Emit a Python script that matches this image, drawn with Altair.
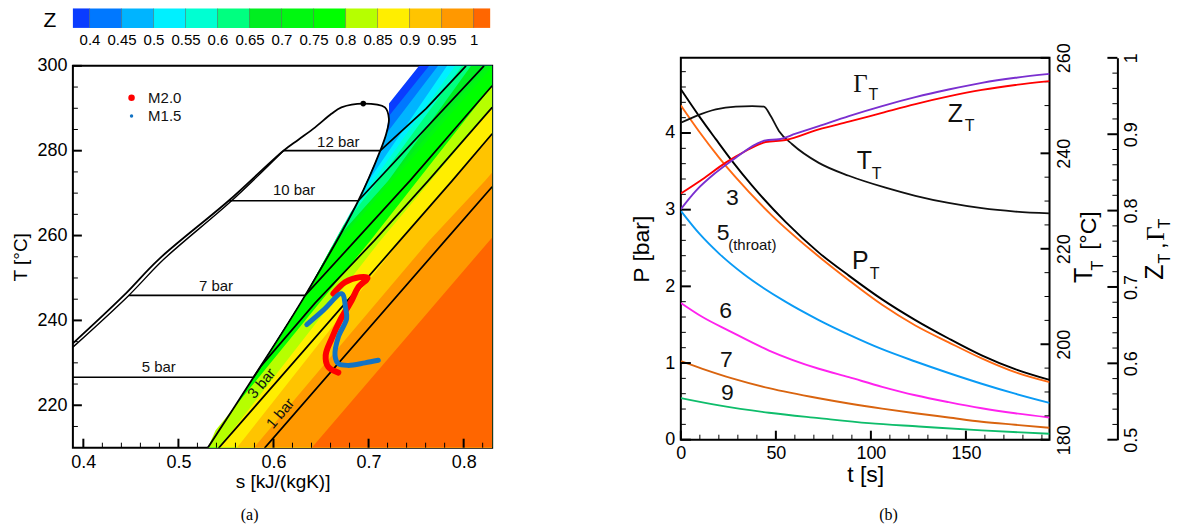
import altair as alt
import pandas as pd

# ---------- Colour bar ----------
Z_LEVELS = [0.4, 0.45, 0.5, 0.55, 0.6, 0.65, 0.7, 0.75, 0.8, 0.85, 0.9, 0.95, 1.0]
Z_EDGES = [0.374] + Z_LEVELS + [1.026]
Z_COLORS = ["#0a3cff", "#0078ff", "#00b4ff", "#00f0ff", "#00ffd2", "#00ff80", "#00ee20",
            "#00f810", "#00ff00", "#b6ff00", "#ffee00", "#ffc400", "#ff9800", "#ff6600"]

# ---------- Panel (a): saturation dome ----------
VAPOR_S = [0.5307, 0.579, 0.6333, 0.6892, 0.7123, 0.7186, 0.7214]
VAPOR_T = [209.9, 226.6, 245.9, 268.2, 280.0, 284.0, 287.5]
DOME_TOP_S = [0.7172, 0.6944, 0.6714, 0.6609, 0.6438, 0.6262, 0.6105]
DOME_TOP_T = [290.2, 291.1, 290.2, 288.7, 285.5, 282.6, 280.0]
LIQUID_A_S = [0.5528, 0.4793, 0.4426, 0.389]
LIQUID_A_T = [268.2, 254.4, 245.9, 234.6]
LIQUID_B_S = [0.6105, 0.5559, 0.4846, 0.4478, 0.389]
LIQUID_B_T = [280.0, 268.2, 254.4, 245.9, 233.7]

# Contour level boundaries (s, T), ordered from the dome towards high entropy
BOUND_S = [
    [0.7215, 0.7532, 0.83],
    [0.7214, 0.7637, 0.83],
    [0.7186, 0.7731, 0.83],
    [0.6965, 0.7826, 0.83],
    [0.6808, 0.791, 0.83],
    [0.6735, 0.7102, 0.7983, 0.83],
    [0.6672, 0.7207, 0.8078, 0.83],
    [0.6609, 0.8246, 0.83],
    [0.6567, 0.8298, 0.83],
    [0.5391, 0.7018, 0.8298, 0.83],
    [0.5423, 0.7123, 0.8298, 0.83],
    [0.5612, 0.7333, 0.8298, 0.83],
    [0.579, 0.7637, 0.8225, 0.8298, 0.83],
    [0.6399, 0.8298, 0.83],
]
BOUND_T = [
    [291.1, 300, 300],
    [288.2, 300, 300],
    [284.0, 300, 300],
    [271.8, 300, 300],
    [265.4, 300, 300],
    [262.4, 272.9, 300, 300],
    [259.5, 272.9, 300, 300],
    [257.2, 300, 300],
    [255.3, 299.8, 300],
    [214.1, 258.8, 295.3, 295.5],
    [209.9, 258.8, 290.1, 290.2],
    [209.9, 258.8, 284.0, 284.1],
    [209.9, 258.8, 272.9, 274.8, 275.0],
    [209.9, 259.5, 259.7],
]

# Constant-pressure lines
ISO_NAMES = ["12 bar", "10 bar", "7 bar", "5 bar", "3 bar", "1 bar"]
ISO_S = [
    [0.6105, 0.7123, 0.7605, 0.8025],
    [0.5528, 0.6892, 0.8214],
    [0.4478, 0.6333, 0.686, 0.7434, 0.83],
    [0.389, 0.579, 0.5874, 0.6441, 0.706, 0.7626, 0.83],
    [0.5423, 0.7329, 0.7878, 0.83],
    [0.5906, 0.7805, 0.83],
]
ISO_T = [
    [280, 280, 289.9, 300],
    [268.2, 268.2, 300],
    [245.9, 245.9, 258.8, 272.9, 295.3],
    [226.6, 226.6, 229.4, 244.2, 258.8, 272.9, 290.2],
    [209.9, 258.8, 272.9, 284.0],
    [209.9, 258.8, 271.5],
]

# Expansion paths
M20_S = [0.663, 0.6752, 0.691, 0.699, 0.6892, 0.6822, 0.67, 0.6612, 0.6549, 0.6577, 0.6682]
M20_T = [246.3, 249.0, 250.2, 250.05, 247.8, 244.7, 240.0, 235.7, 231.8, 229.0, 227.7]
M15_S = [0.635, 0.6525, 0.6717, 0.6759, 0.6769, 0.6682, 0.6647, 0.6682, 0.6787, 0.6962, 0.7102]
M15_T = [239.0, 242.4, 246.3, 242.8, 240.4, 236.1, 231.8, 229.8, 229.4, 230.0, 230.6]

# Text labels of panel (a): s, T, text, angle
LABELS_A = [
    (0.6682, 282.0, "12 bar", 0),
    (0.6217, 270.8, "10 bar", 0),
    (0.5395, 248.0, "7 bar", 0),
    (0.4793, 229.0, "5 bar", 0),
    (0.5874, 225.2, "3 bar", 310),
    (0.607, 218.1, "1 bar", 310),
    (0.4856, 292.5, "M2.0", 0),
    (0.4856, 288.2, "M1.5", 0),
]

# ---------- Panel (b) ----------
SERIES_P = {
    "PT": ([0, 9.6, 18.4, 27.1, 37.6, 55.1, 72.6, 88.4, 105.9, 123.4, 140.9, 158.3, 175.9, 194],
           [4.57, 4.22, 3.92, 3.63, 3.31, 2.84, 2.44, 2.14, 1.83, 1.56, 1.32, 1.10, 0.92, 0.78], "#000000"),
    "3": ([0, 9.6, 20.1, 28.9, 48.1, 69.1, 88.4, 105.9, 123.4, 140.9, 158.3, 175.9, 194],
          [4.36, 4.02, 3.68, 3.42, 2.92, 2.46, 2.08, 1.76, 1.49, 1.27, 1.06, 0.88, 0.75], "#ff6a13"),
    "5": ([0, 10, 20, 33, 55, 72.6, 88.4, 105.9, 123.4, 140.9, 158.3, 175.9, 194],
          [2.985, 2.68, 2.43, 2.16, 1.80, 1.56, 1.37, 1.18, 1.02, 0.87, 0.73, 0.60, 0.48], "#0a9bf5"),
    "6": ([0, 11.4, 25.4, 46.4, 72.6, 88.4, 105.9, 123.4, 140.9, 158.3, 175.9, 194],
          [1.784, 1.6, 1.42, 1.163, 0.925, 0.815, 0.69, 0.58, 0.49, 0.41, 0.345, 0.29], "#ff22ee"),
    "7": ([0, 11.4, 27, 46.4, 72.6, 88.4, 105.9, 123.4, 140.9, 158.3, 175.9, 194],
          [1.024, 0.925, 0.80, 0.672, 0.54, 0.472, 0.405, 0.345, 0.29, 0.235, 0.195, 0.156], "#d9640f"),
    "9": ([0, 20.1, 46.4, 72.6, 98.9, 125.2, 158.3, 194],
          [0.542, 0.447, 0.351, 0.281, 0.216, 0.173, 0.121, 0.078], "#0ebd6b"),
}
TT_T = [0, 7.9, 18.4, 28.9, 37.6, 43.7, 47.3, 51.6, 58.6, 72.6, 88.4, 107.7, 123.4, 140.9, 158.4, 176, 194]
TT_V = [246.4, 247.8, 249.2, 249.8, 249.9, 249.8, 247.8, 244.7, 241.9, 238.0, 235.3, 232.8, 231.1, 229.6, 228.5, 227.8, 227.4]
ZT_T = [0, 11.4, 23.6, 34.1, 44.6, 55.1, 72.6, 88.4, 105.9, 123.4, 140.9, 158.4, 176, 194]
ZT_V = [0.8223, 0.841, 0.8628, 0.878, 0.8898, 0.8924, 0.9064, 0.9164, 0.928, 0.9395, 0.9495, 0.958, 0.9645, 0.9695]
GT_T = [0, 7.9, 18.4, 28.9, 39.4, 44.6, 51.6, 60.4, 72.6, 88.4, 105.9, 123.4, 140.9, 158.4, 176, 194]
GT_V = [0.8019, 0.8258, 0.8497, 0.8693, 0.8868, 0.892, 0.8934, 0.9007, 0.9107, 0.9238, 0.9369, 0.9485, 0.9585, 0.9673, 0.9739, 0.979]

# t, P, text, size
LABELS_B = [
    (27.1, 3.151, "3", 23), (22.2, 2.69, "5", 23), (37.6, 2.543, "(throat)", 15),
    (23.6, 1.674, "6", 23), (23.9, 1.042, "7", 23), (24.5, 0.612, "9", 23),
    (94.5, 2.326, "P", 25), (102, 2.16, "T", 16),
    (96.6, 3.637, "T", 25), (103, 3.465, "T", 16),
    (144.4, 4.245, "Z", 25), (152, 4.095, "T", 16),
    (101.3, 4.49, "T", 16),
]

SANS = "Liberation Sans"
SERIF = "Liberation Serif"
W_A, H_A = 420, 382.5
W_B, H_B = 369.3, 382.5
one = pd.DataFrame({"a": [0]})

COMMON = dict(domain=False, ticks=False, tickSize=0, grid=False, labelFont=SANS, labelColor="black",
              titleFont=SANS, titleFontWeight="normal", labelFlush=False, labelOverlap=False)


def note(x, y, text, size, font=SANS, angle=0):
    return alt.Chart(one).mark_text(fontSize=size, font=font, angle=angle, color="black",
                                    align="center", baseline="middle").encode(
        x=alt.value(x), y=alt.value(y), text=alt.value(text))


def vticks(vals, w, pos_from, length, scale, axis):
    """Inward-pointing ticks on a vertical axis."""
    return alt.Chart(pd.DataFrame({"v": vals})).mark_rule(color="black", strokeWidth=w).encode(
        y=alt.Y("v:Q", scale=scale, axis=axis), x=alt.value(pos_from), x2=alt.value(pos_from + length))


def hticks(vals, w, h, length, scale, axis):
    return alt.Chart(pd.DataFrame({"v": vals})).mark_rule(color="black", strokeWidth=w).encode(
        x=alt.X("v:Q", scale=scale, axis=axis), y=alt.value(h), y2=alt.value(h - length))


# ---------- Colour bar chart ----------
cb_scale = alt.Scale(domain=[Z_EDGES[0], Z_EDGES[-1]], nice=False, zero=False)
AX_CB = alt.Axis(values=Z_LEVELS, format="~g", title=None, labelFontSize=15, labelPadding=5, **COMMON)
cb_df = pd.DataFrame({"a": Z_EDGES[:-1], "b": Z_EDGES[1:], "c": Z_COLORS})
cb = alt.Chart(cb_df).mark_rect().encode(
    x=alt.X("a:Q", scale=cb_scale, axis=AX_CB),
    x2="b:Q",
    color=alt.Color("c:N", scale=None),
)
cb_sep = alt.Chart(pd.DataFrame({"v": Z_LEVELS})).mark_rule(color="#333", strokeWidth=0.7, opacity=0.6).encode(
    x=alt.X("v:Q", scale=cb_scale, axis=AX_CB))
colorbar = alt.layer(cb, cb_sep, note(-23, 13, "Z", 21)).properties(
    width=W_A - 2, height=19.5, view=alt.ViewConfig(stroke="transparent"))

# ---------- Panel (a) ----------
sx = alt.Scale(domain=[0.389, 0.83], nice=False, zero=False)
sy = alt.Scale(domain=[210, 300], nice=False, zero=False)
AX_S = alt.Axis(values=[0.4, 0.5, 0.6, 0.7, 0.8], format=".1f", title="s [kJ/(kgK)]", labelFontSize=18,
                labelPadding=6, titleFontSize=19, titlePadding=1, **COMMON)
AX_TEMP = alt.Axis(values=[220, 240, 260, 280, 300], title="T [°C]", labelFontSize=18, labelPadding=6,
                   titleFontSize=19, titlePadding=6, **COMMON)
X = alt.X("s:Q", scale=sx, axis=AX_S)
Y = alt.Y("T:Q", scale=sy, axis=AX_TEMP)

layers_a = []
for i, (bs, bt) in enumerate(zip(BOUND_S, BOUND_T)):
    low = [(a, b) for a, b in zip(VAPOR_S, VAPOR_T) if a < bs[0] and b < bt[0]]
    ss = [p[0] for p in low] + bs
    tt = [p[1] for p in low] + bt
    df = pd.DataFrame({"s": ss, "T": tt, "b": [210] * len(ss)})
    layers_a.append(alt.Chart(df).mark_area(color=Z_COLORS[i], clip=True, interpolate="linear").encode(
        x=X, y=Y, y2="b:Q"))


def path(ss, tt, color, width, cap="butt", interp="linear"):
    df = pd.DataFrame({"s": ss, "T": tt, "i": range(len(ss))})
    return alt.Chart(df).mark_line(color=color, strokeWidth=width, clip=True, strokeCap=cap,
                                   strokeJoin="round", interpolate=interp).encode(x=X, y=Y, order="i:Q")


for ss, tt in zip(ISO_S, ISO_T):
    layers_a.append(path(ss, tt, "black", 1.7))
layers_a.append(path(VAPOR_S + DOME_TOP_S + LIQUID_A_S, VAPOR_T + DOME_TOP_T + LIQUID_A_T, "black", 1.8,
                     interp="catmull-rom"))
layers_a.append(path(LIQUID_B_S, LIQUID_B_T, "black", 1.4, interp="catmull-rom"))
layers_a.append(path(M20_S, M20_T, "#ff0000", 6, "round", "catmull-rom"))
layers_a.append(path(M15_S, M15_T, "#1273c4", 5, "round", "catmull-rom"))

pts = pd.DataFrame({"s": [0.6944], "T": [291.1]})
layers_a.append(alt.Chart(pts).mark_point(filled=True, color="black", size=32, opacity=1).encode(x=X, y=Y))
leg = pd.DataFrame({"s": [0.4507, 0.4507], "T": [292.5, 288.2], "c": ["#ff0000", "#1273c4"], "z": [42, 12]})
layers_a.append(alt.Chart(leg).mark_point(filled=True, opacity=1).encode(
    x=X, y=Y, color=alt.Color("c:N", scale=None), size=alt.Size("z:Q", scale=None)))

lab_df = pd.DataFrame(LABELS_A, columns=["s", "T", "txt", "ang"])
for ang, sub in lab_df.groupby("ang"):
    layers_a.append(alt.Chart(sub).mark_text(font=SANS, fontSize=15, angle=int(ang), color="#111",
                                             align="center", baseline="middle").encode(
        x=X, y=Y, text="txt:N"))

layers_a.append(hticks([0.4, 0.5, 0.6, 0.7, 0.8], 2, H_A, 9, sx, AX_S))
layers_a.append(hticks([round(0.4 + 0.02 * k, 2) for k in range(22) if k % 5], 1, H_A, 5, sx, AX_S))
layers_a.append(vticks([220, 240, 260, 280, 300], 2, 0, 9, sy, AX_TEMP))
layers_a.append(vticks([215, 225, 230, 235, 245, 250, 255, 265, 270, 275, 285, 290, 295], 1, 0, 5, sy, AX_TEMP))
layers_a.append(note(177, 450, "(a)", 16, font=SERIF))
panel_a = alt.layer(*layers_a).properties(width=W_A, height=H_A)

# ---------- Panel (b) ----------
tx = alt.Scale(domain=[0, 194], nice=False, zero=False)
py = alt.Scale(domain=[0, 4.98], nice=False, zero=False)
ty = alt.Scale(domain=[180, 260], nice=False, zero=False)
zy = alt.Scale(domain=[0.5, 1.0], nice=False, zero=False)
AX_TIME = alt.Axis(values=[0, 50, 100, 150], title="t [s]", labelFontSize=18, labelPadding=5, titleFontSize=23,
                   titlePadding=1, **COMMON)
AX_P = alt.Axis(values=[0, 1, 2, 3, 4], title="P [bar]", labelFontSize=18, labelPadding=6, titleFontSize=23,
                titlePadding=11, **COMMON)
AX_TT = alt.Axis(orient="right", values=[180, 200, 220, 240, 260], title=None, labelFontSize=18, labelAngle=270,
                 labelPadding=6, **COMMON)
z_off = 68
AX_Z_KW = dict(COMMON)
AX_Z_KW.update(domain=True, domainColor="black", domainWidth=2)
AX_Z = alt.Axis(orient="right", offset=z_off, values=[0.5, 0.6, 0.7, 0.8, 0.9, 1.0], format="~g", title=None,
                labelFontSize=18, labelAngle=270, labelPadding=5, **AX_Z_KW)
XT = alt.X("t:Q", scale=tx, axis=AX_TIME)


def curve(ts, vs, color, scale, axis, width=1.9):
    df = pd.DataFrame({"t": ts, "v": vs})
    return alt.Chart(df).mark_line(color=color, strokeWidth=width, clip=True, interpolate="monotone").encode(
        x=XT, y=alt.Y("v:Q", scale=scale, axis=axis))


p_layers = [curve(t, p, c, py, AX_P) for t, p, c in SERIES_P.values()]
lab_b = pd.DataFrame(LABELS_B, columns=["t", "v", "txt", "fs"])
for fs, sub in lab_b.groupby("fs"):
    p_layers.append(alt.Chart(sub).mark_text(font=SANS, fontSize=int(fs), color="#111",
                                             align="center", baseline="middle").encode(
        x=XT, y=alt.Y("v:Q", scale=py, axis=AX_P), text="txt:N"))
gam = pd.DataFrame({"t": [94.5], "v": [4.635], "txt": ["\u0393"]})
p_layers.append(alt.Chart(gam).mark_text(font=SERIF, fontSize=25, color="#111", align="center",
                                         baseline="middle").encode(
    x=XT, y=alt.Y("v:Q", scale=py, axis=AX_P), text="txt:N"))
p_layers.append(hticks([0, 50, 100, 150], 2, H_B, 9, tx, AX_TIME))
p_layers.append(hticks([k * 10 for k in range(1, 20) if k % 5], 1, H_B, 5, tx, AX_TIME))
p_layers.append(vticks([0, 1, 2, 3, 4], 2, 0, 10, py, AX_P))
p_layers.append(vticks([round(0.2 * k, 1) for k in range(1, 25) if k % 5], 1, 0, 5, py, AX_P))
p_layers.append(note(208, 458, "(b)", 16, font=SERIF))
layer_p = alt.layer(*p_layers)

t_layers = [curve(TT_T, TT_V, "#111111", ty, AX_TT, 1.8)]
t_layers.append(vticks([180, 200, 220, 240, 260], 2, W_B, -9, ty, AX_TT))
t_layers.append(vticks([k for k in range(185, 260, 5) if k % 20], 1, W_B, -5, ty, AX_TT))
t_layers.extend([
    note(404.3, 218, "T", 25, angle=270), note(418.3, 208, "T", 16, angle=270),
    note(409, 173, "[°C]", 23, angle=270),
])
layer_t = alt.layer(*t_layers)

z_layers = [curve(ZT_T, ZT_V, "#ff0000", zy, AX_Z), curve(GT_T, GT_V, "#7a2fd0", zy, AX_Z)]
z_layers.append(vticks([0.5, 0.6, 0.7, 0.8, 0.9, 1.0], 2, W_B + z_off, -10, zy, AX_Z))
z_layers.append(vticks([round(0.5 + 0.02 * k, 2) for k in range(1, 25) if k % 5], 1, W_B + z_off, -5, zy, AX_Z))
z_layers.extend([
    note(475, 214.7, "Z", 25, angle=270), note(485, 201, "T", 16, angle=270), note(478, 188, ",", 23, angle=270),
    note(476, 176, "\u0393", 25, font=SERIF, angle=270), note(485, 166, "T", 16, angle=270),
])
layer_z = alt.layer(*z_layers)

panel_b = alt.layer(layer_p, layer_t, layer_z).resolve_scale(y="independent").properties(width=W_B, height=H_B)

spacer = alt.Chart(one).mark_point(opacity=0).encode(x=alt.value(50), y=alt.value(10)).properties(
    width=W_B, height=19.5, view=alt.ViewConfig(stroke="transparent"))

left = alt.vconcat(colorbar, panel_a, spacing=37.5, bounds="flush")
right = alt.vconcat(spacer, panel_b, spacing=29.5, bounds="flush")
chart = alt.hconcat(left, right, spacing=136).properties(
    padding={"left": 2, "top": -2, "right": 0, "bottom": 0}
).configure_view(stroke="black", strokeWidth=2)

chart.save("out.html", embed_options={"renderer": "svg", "actions": False})
